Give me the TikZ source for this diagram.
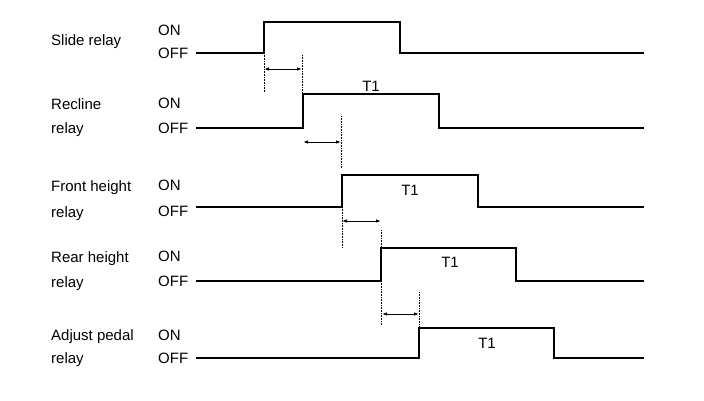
\documentclass[tikz,border=0pt]{standalone}
\usepackage{fontspec}
\setmainfont{Liberation Sans}
\usetikzlibrary{arrows.meta}
\begin{document}
\begin{tikzpicture}[x=1pt,y=-1pt,
  sig/.style={line width=1.8pt, line join=miter},
  guide/.style={densely dotted, line width=0.6pt},
  gapar/.style={{Latex[length=5pt,width=3.5pt]}-{Latex[length=5pt,width=3.5pt]}, line width=1pt},
  lab/.style={font=\fontsize{15}{17}\selectfont, anchor=base west, inner sep=0pt},
  tlab/.style={font=\fontsize{15}{17}\selectfont, anchor=base, inner sep=0pt}]
\useasboundingbox (0,0) rectangle (704,400);
\fill[white] (0,0) rectangle (704,400);

% ---------- row labels ----------
\node[lab] (n1) at (51,45) {Slide relay};
\node[lab] (on1) at (158,35) {ON};
\node[lab] (off1) at (158,58) {OFF};

\node[lab] (n2a) at (51,109) {Recline};
\node[lab] (n2b) at (51,133) {relay};
\node[lab] (on2) at (158,108) {ON};
\node[lab] (off2) at (158,133) {OFF};

\node[lab] (n3a) at (51,191) {Front height};
\node[lab] (n3b) at (51,217) {relay};
\node[lab] (on3) at (158,190) {ON};
\node[lab] (off3) at (158,216) {OFF};

\node[lab] (n4a) at (51,262) {Rear height};
\node[lab] (n4b) at (51,287) {relay};
\node[lab] (on4) at (158,261) {ON};
\node[lab] (off4) at (158,286) {OFF};

\node[lab] (n5a) at (51,340) {Adjust pedal};
\node[lab] (n5b) at (51,363) {relay};
\node[lab] (on5) at (158,340) {ON};
\node[lab] (off5) at (158,363) {OFF};

% ---------- waveforms ----------
% row 1
\coordinate (s1) at (196,53);
\coordinate (rb1) at (264,53);
\coordinate (rt1) at (264,22);
\coordinate (ft1) at (400,22);
\coordinate (fb1) at (400,53);
\coordinate (e1) at (644,53);
\draw[sig] (s1) -- (rb1) -- (rt1) -- (ft1) -- (fb1) -- (e1);

% row 2
\coordinate (s2) at (196,128);
\coordinate (rb2) at (303,128);
\coordinate (rt2) at (303,94);
\coordinate (ft2) at (439,94);
\coordinate (fb2) at (439,128);
\coordinate (e2) at (644,128);
\draw[sig] (s2) -- (rb2) -- (rt2) -- (ft2) -- (fb2) -- (e2);
\node[tlab] (t2) at (371,91) {T1};

% row 3
\coordinate (s3) at (196,207);
\coordinate (rb3) at (342,207);
\coordinate (rt3) at (342,175);
\coordinate (ft3) at (478,175);
\coordinate (fb3) at (478,207);
\coordinate (e3) at (644,207);
\draw[sig] (s3) -- (rb3) -- (rt3) -- (ft3) -- (fb3) -- (e3);
\node[tlab] (t3) at (410,195) {T1};

% row 4
\coordinate (s4) at (196,281);
\coordinate (rb4) at (381,281);
\coordinate (rt4) at (381,248);
\coordinate (ft4) at (516,248);
\coordinate (fb4) at (516,281);
\coordinate (e4) at (644,281);
\draw[sig] (s4) -- (rb4) -- (rt4) -- (ft4) -- (fb4) -- (e4);
\node[tlab] (t4) at (450,267) {T1};

% row 5
\coordinate (s5) at (196,358);
\coordinate (rb5) at (419,358);
\coordinate (rt5) at (419,328);
\coordinate (ft5) at (554,328);
\coordinate (fb5) at (554,358);
\coordinate (e5) at (644,358);
\draw[sig] (s5) -- (rb5) -- (rt5) -- (ft5) -- (fb5) -- (e5);
\node[tlab] (t5) at (487,348) {T1};

% ---------- delay markers ----------
\coordinate (g1a) at (264,93);
\coordinate (g1b) at (302,55);
\coordinate (g1c) at (302,93);
\draw[guide] (rb1) -- (g1a);
\draw[guide] (g1b) -- (g1c);
\coordinate (a1l) at (264,69);
\coordinate (a1r) at (302,69);
\draw[gapar] (a1l) -- (a1r);

\coordinate (g2a) at (341,116);
\coordinate (g2b) at (341,168);
\draw[guide] (g2a) -- (g2b);
\coordinate (a2l) at (303,142);
\coordinate (a2r) at (341,142);
\draw[gapar] (a2l) -- (a2r);

\coordinate (g3a) at (342,248);
\draw[guide] (rb3) -- (g3a);
\coordinate (g3b) at (381,230);
\coordinate (g3c) at (381,248);
\draw[guide] (g3b) -- (g3c);
\coordinate (a3l) at (342,221);
\coordinate (a3r) at (381,221);
\draw[gapar] (a3l) -- (a3r);

\coordinate (g4a) at (381,325);
\draw[guide] (rb4) -- (g4a);
\coordinate (g4b) at (419,292);
\coordinate (g4c) at (419,328);
\draw[guide] (g4b) -- (g4c);
\coordinate (a4l) at (382,314);
\coordinate (a4r) at (419,314);
\draw[gapar] (a4l) -- (a4r);
\end{tikzpicture}
\end{document}
